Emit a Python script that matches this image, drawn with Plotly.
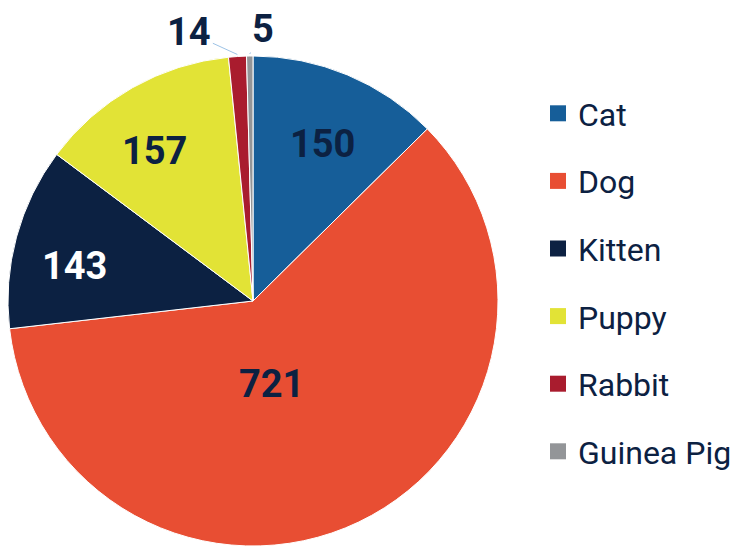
import math
import plotly.graph_objects as go

labels = ["Cat", "Dog", "Kitten", "Puppy", "Rabbit", "Guinea Pig"]
values = [150, 721, 143, 157, 14, 5]
colors = ["#165e99", "#e84e33", "#0c2142", "#e2e336", "#a91c2e", "#939598"]
text_colors = ["#0c2142", "#0c2142", "#ffffff", "#0c2142", "#0c2142", "#0c2142"]
outside = [False, False, False, False, True, True]
# inside-label placement: fraction of radius, angular shift from slice middle (deg)
label_rfrac = [0.70, 0.346, 0.741, 0.734, None, None]
label_dang = [1.3, 12.8, -3.9, -3.7, None, None]
# outside-label offsets (px) from slice edge
label_offsets = {4: (-48, -22), 5: (13, -25)}

# page body has an 8px margin; figure is sized to fit the window
PAD = 8
W, H = 743 - PAD, 550 - PAD
CX, CY, R = 253 - PAD, 301 - PAD, 245
NAVY = "#0c2142"


def px2paper(sx, sy):
    return (sx - PAD) / W, 1 - (sy - PAD) / H


fig = go.Figure()
fig.add_trace(go.Pie(
    labels=labels, values=values, sort=False, direction="clockwise", rotation=0,
    marker=dict(colors=colors, line=dict(color="white", width=1)),
    textinfo="none",
    domain=dict(x=[max(0, (CX - R) / W), (CX + R) / W],
                y=[(H - CY - R) / H, (H - CY + R) / H]),
    showlegend=False, hoverinfo="label+value",
))

total = sum(values)
cum = 0
for i, v in enumerate(values):
    mid = 360 * (cum + v / 2) / total
    cum += v
    if outside[i]:
        ang = math.radians(mid)
        fx = CX + (R + 2) * math.sin(ang)
        fy = CY - (R + 2) * math.cos(ang)
        ax, ay = label_offsets[i]
        fig.add_annotation(
            x=fx / W, y=1 - fy / H, xref="paper", yref="paper",
            text=f"<b>{v}</b>", showarrow=True, arrowhead=0, arrowwidth=1,
            arrowcolor="#9dc3e6", ax=ax, ay=ay,
            font=dict(family="Roboto", size=38, color=NAVY),
        )
    else:
        ang = math.radians(mid + label_dang[i])
        rr = R * label_rfrac[i]
        fx = CX + rr * math.sin(ang)
        fy = CY - rr * math.cos(ang)
        fig.add_annotation(
            x=fx / W, y=1 - fy / H, xref="paper", yref="paper",
            text=f"<b>{v}</b>", showarrow=False,
            xanchor="center", yanchor="middle",
            font=dict(family="Roboto", size=38, color=text_colors[i]),
        )

for lab, col in zip(labels, colors):
    fig.add_trace(go.Scatter(
        x=[None], y=[None], mode="markers", name=lab, legendgroup=lab,
        marker=dict(symbol="square", size=16, color=col),
    ))

lx, ly = px2paper(538, 86)
fig.update_layout(
    width=W, height=H, margin=dict(l=0, r=0, t=0, b=0, autoexpand=False),
    paper_bgcolor="white", plot_bgcolor="white",
    font=dict(family="Roboto", color=NAVY),
    xaxis=dict(visible=False), yaxis=dict(visible=False),
    legend=dict(x=lx, y=ly, xanchor="left", yanchor="top",
                font=dict(family="Roboto", size=32, color=NAVY),
                tracegroupgap=23, bgcolor="rgba(0,0,0,0)"),
)
fig.write_html("out.html")
